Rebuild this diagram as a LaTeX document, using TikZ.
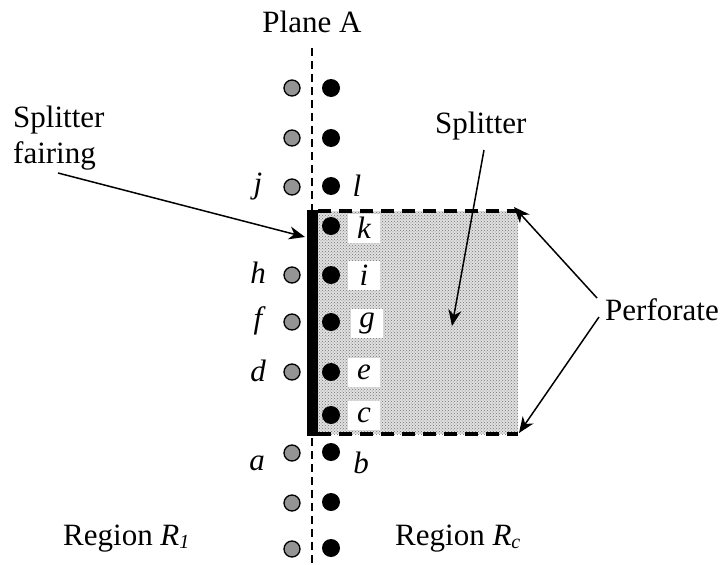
\documentclass[tikz,border=0pt]{standalone}
\usepackage{fontspec}
\setmainfont{Liberation Serif}
\usetikzlibrary{arrows.meta,patterns}
\begin{document}
\begin{tikzpicture}[x=1pt,y=-1pt,
  lbl/.style={font=\fontsize{31}{36}\selectfont, inner sep=0pt},
  var/.style={font=\fontsize{31}{36}\selectfont\itshape, inner sep=0pt},
  wvar/.style={font=\fontsize{31}{36}\selectfont\itshape, fill=white, minimum width=32pt, minimum height=29pt, inner sep=0pt},
  grayc/.style={circle, draw=black, line width=1.3pt, fill=black!42, minimum size=16pt, inner sep=0pt},
  blackc/.style={circle, fill=black, minimum size=18pt, inner sep=0pt},
  pointer/.style={-{Stealth[length=16pt,width=13pt,inset=5pt]}, line width=1.5pt},
  perf/.style={dash pattern=on 13pt off 8pt, line width=4pt},
  plane/.style={dash pattern=on 8pt off 5pt, line width=1.4pt},
]
\useasboundingbox (0,0) rectangle (726,565);
% plane A
\node[lbl] (planeA) at (312,22) {Plane A};
\coordinate (ptop) at (312,48);
\coordinate (pbot) at (312,565);
\draw[plane] (ptop) -- (pbot);
% splitter body
\fill[black!12] (318,211) rectangle (518,434);
\fill[pattern=crosshatch dots, pattern color=black!55] (318,211) rectangle (518,434);
\coordinate (tl) at (318,211);
\coordinate (tr) at (518,211);
\coordinate (bl) at (318,434);
\coordinate (br) at (518,434);
\draw[perf] (tl) -- (tr);
\draw[perf] (bl) -- (br);
% fairing
\fill[black] (307,210) rectangle (318,436);
\coordinate (fair) at (305,237);
% circles
\foreach \n/\y in {r1/88, r2/138, r3/187, r5/275, r6/322, r7/372, r9/453, r10/503, r11/549}{
  \node[grayc] (g\n) at (292,\y) {};
}
\foreach \n/\y in {r1/88, r2/138, r3/186, r4/226, r5/275, r6/322, r7/372, r8/415, r9/452, r10/502, r11/548}{
  \node[blackc] (b\n) at (331,\y) {};
}
% labels
\node[var] (lj) at (258,187) {j};
\node[var] (ll) at (357,186) {l};
\node[var] (lh) at (258,273) {h};
\node[var] (lf) at (258,321) {f};
\node[var] (ld) at (258,371) {d};
\node[var] (la) at (257,463) {a};
\node[var] (lb) at (361,463) {b};
\node[wvar] (lk) at (364,228) {k};
\node[wvar] (li) at (364,275) {i};
\node[wvar] (lg) at (367,323) {g};
\node[wvar] (le) at (364,372) {e};
\node[wvar] (lc) at (364,415) {c};
% texts
\node[lbl, anchor=base west] (sf1) at (13,127) {Splitter};
\node[lbl, anchor=base west] (sf2) at (13,163) {fairing};
\node[lbl, anchor=base west] (sp) at (435,133) {Splitter};
\node[lbl, anchor=base west] (perfl) at (605,320) {Perforate};
\node[lbl, anchor=base west] (reg1) at (63,545) {Region \textit{R}\raisebox{-0.25ex}{\fontsize{20}{24}\selectfont\textit{1}}};
\node[lbl, anchor=base west] (regc) at (395,545) {Region \textit{R}\raisebox{-0.25ex}{\fontsize{20}{24}\selectfont\textit{c}}};
% arrows
\coordinate (sfa) at (58,173);
\coordinate (spa) at (484,150);
\coordinate (spt) at (452,326);
\coordinate (pa1) at (597,298);
\coordinate (pa2) at (599,317);
\coordinate (pt1) at (514,207);
\coordinate (pt2) at (519,433);
\draw[pointer] (sfa) -- (fair);
\draw[pointer] (spa) -- (spt);
\draw[pointer] (pa1) -- (pt1);
\draw[pointer] (pa2) -- (pt2);
\end{tikzpicture}
\end{document}
